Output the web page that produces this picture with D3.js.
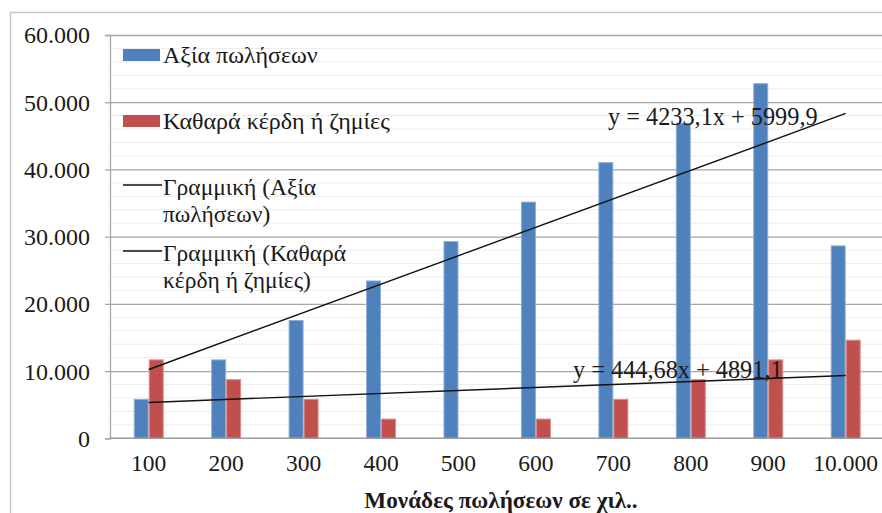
<!DOCTYPE html>
<html>
<head>
<meta charset="utf-8">
<script src="https://cdn.jsdelivr.net/npm/d3@7"></script>
<style>
  html, body { margin: 0; padding: 0; background: #fff; }
  svg { display: block; }
  text { font-family: "Liberation Serif", "Times New Roman", serif; fill: #1a1a1a; }
</style>
</head>
<body>
<svg id="chart" width="882" height="513"></svg>
<script>
// ---- data ----
const categories = ["100", "200", "300", "400", "500", "600", "700", "800", "900", "10.000"];
const seriesNames = ["Αξία πωλήσεων", "Καθαρά κέρδη ή ζημίες"];
const salesValues = [5870, 11740, 17610, 23480, 29350, 35220, 41090, 46960, 52830, 28700];
const profitValues = [11740, 8800, 5870, 2935, 0, 2935, 5870, 8800, 11740, 14670];
const trendSlopes = [4233.1, 444.68];
const trendIntercepts = [5999.9, 4891.1];
const trendLabels = ["y = 4233,1x + 5999,9", "y = 444,68x + 4891,1"];
const trendLegendLines = [["Γραμμική (Αξία", "πωλήσεων)"], ["Γραμμική (Καθαρά", "κέρδη ή ζημίες)"]];
const yTicks = [0, 10000, 20000, 30000, 40000, 50000, 60000];
const yMinorTicks = d3.range(0, 60001, 2000);
const xTitle = "Μονάδες πωλήσεων σε χιλ..";

const colors = ["#4F81BD", "#C0504D"];
const edgeColors = ["#8FAFD9", "#D98F8D"];
const series = [salesValues, profitValues];

const FONT = '"Liberation Serif", "Times New Roman", serif';
const svg = d3.select("#chart");
const pLeft = 110, pRight = 884.4, pTop = 35, pBottom = 438.3;

const locale = d3.formatLocale({ decimal: ",", thousands: ".", grouping: [3], currency: ["", "€"] });
const fmt = locale.format(",");

const x = d3.scaleBand().domain(categories).range([pLeft, pRight]).paddingInner(0.6126).paddingOuter(0.3063);
const xs = d3.scaleBand().domain([0, 1]).range([0, x.bandwidth()]);
const y = d3.scaleLinear().domain([0, 60000]).range([pBottom, pTop]);

// outer border
svg.append("rect").attr("x", 10.5).attr("y", 12.5).attr("width", 900).attr("height", 600)
  .attr("fill", "none").attr("stroke", "#c8c8c8").attr("stroke-width", 1.5);

// minor gridlines
svg.append("g").selectAll("line").data(yMinorTicks.filter(v => v % 10000 !== 0)).join("line")
  .attr("x1", pLeft).attr("x2", 882).attr("y1", d => y(d)).attr("y2", d => y(d))
  .attr("stroke", "#ededed").attr("stroke-width", 1);

// major gridlines + y axis
const yAxis = d3.axisLeft(y).tickValues(yTicks).tickFormat(d => fmt(d)).tickSize(5).tickPadding(15);
const gy = svg.append("g").attr("transform", `translate(${pLeft},0)`).call(yAxis);
gy.select(".domain").attr("stroke", "#a6a6a6").attr("stroke-width", 1.3);
gy.selectAll(".tick line").attr("stroke", "#a6a6a6").attr("stroke-width", 1.3);
gy.selectAll(".tick text").attr("font-family", FONT)
  .attr("font-size", 24).attr("fill", "#1a1a1a").attr("dy", "0.33em");
gy.selectAll(".tick").filter(d => d > 0).append("line")
  .attr("x1", 0).attr("x2", 882 - pLeft).attr("stroke", "#a6a6a6").attr("stroke-width", 1.3);

// bars
series.forEach((vals, si) => {
  svg.append("g").selectAll("rect").data(vals).join("rect")
    .attr("x", (d, i) => x(categories[i]) + xs(si) + 0.5)
    .attr("width", xs.bandwidth() - 1)
    .attr("y", d => y(d) + 0.5)
    .attr("height", d => Math.max(0, y(0) - y(d) - 0.5))
    .attr("fill", colors[si])
    .attr("stroke", d => d > 0 ? edgeColors[si] : "none")
    .attr("stroke-width", 1);
});

// x axis
const xAxis = d3.axisBottom(x).tickSize(0).tickPadding(26);
const gx = svg.append("g").attr("transform", `translate(0,${pBottom})`).call(xAxis);
gx.select(".domain").attr("stroke", "#9a9a9a").attr("stroke-width", 1.5).attr("d", `M${pLeft},0H882`);
gx.selectAll(".tick text").attr("font-family", FONT)
  .attr("font-size", 23.5).attr("fill", "#1a1a1a").attr("dy", "0.3em");

// trendlines
const line = d3.line().x(d => d[0]).y(d => d[1]);
trendSlopes.forEach((s, ti) => {
  const pts = categories.map((c, i) => [x(c) + x.bandwidth() / 2, y(s * (i + 1) + trendIntercepts[ti])]);
  svg.append("path").attr("d", line([pts[0], pts[pts.length - 1]]))
    .attr("fill", "none").attr("stroke", "#111").attr("stroke-width", 1.4);
});

// trend labels
const labelPos = [[608, 125], [573, 378]];
trendLabels.forEach((t, i) => {
  svg.append("text").attr("x", labelPos[i][0]).attr("y", labelPos[i][1])
    .attr("font-size", 24.3).text(t);
});

// legend
const leg = svg.append("g");
seriesNames.forEach((n, i) => {
  const cy = 55 + i * 66;
  leg.append("rect").attr("x", 123).attr("y", cy - 6).attr("width", 37).attr("height", 12).attr("fill", colors[i]);
  leg.append("text").attr("x", 163).attr("y", cy + 8).attr("font-size", 24).text(n);
});
trendLegendLines.forEach((lines, i) => {
  const cy = 185 + i * 66;
  leg.append("line").attr("x1", 123).attr("x2", 162).attr("y1", cy).attr("y2", cy)
    .attr("stroke", "#111").attr("stroke-width", 1.4);
  lines.forEach((l, j) => {
    leg.append("text").attr("x", 163).attr("y", cy + 10 + j * 27).attr("font-size", 23.5).text(l);
  });
});

// x title
svg.append("text").attr("x", 501).attr("y", 508).attr("text-anchor", "middle")
  .attr("font-size", 23.2).attr("font-weight", "bold").text(xTitle);
</script>
</body>
</html>
